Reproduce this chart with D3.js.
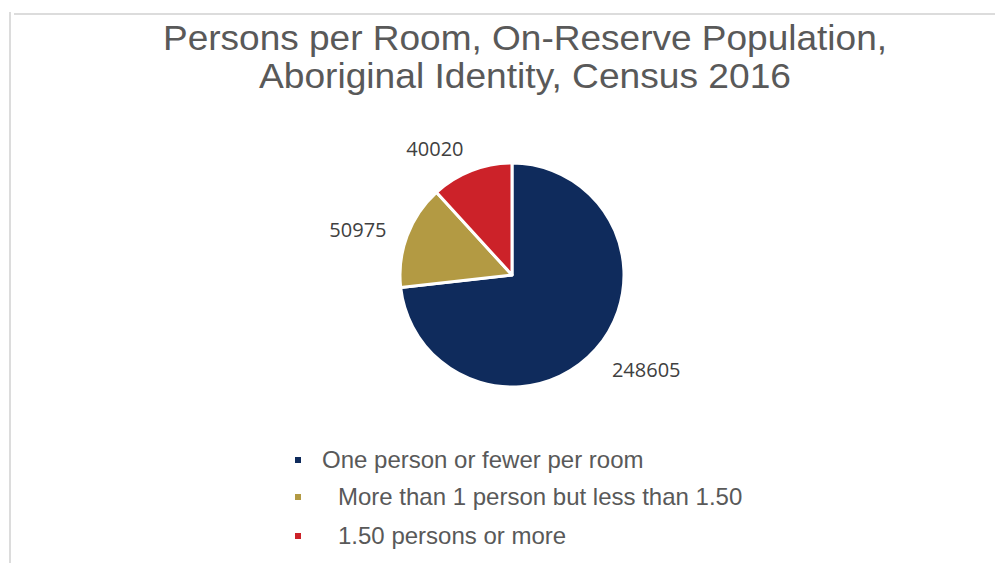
<!DOCTYPE html>
<html lang="en">
<head>
    <meta charset="UTF-8">
    <title>persons per room pie</title>
    <script src="https://d3js.org/d3.v7.min.js"></script>
    <style>
        body { margin: 0; background: #fff; }
    </style>
</head>
<body>
    <svg></svg>
    <script>
        const categories = [
            "One person or fewer per room",
            "More than 1 person but less than 1.50",
            "1.50 persons or more"
        ];
        const values = [248605, 50975, 40020];
        const colors = ["#0f2b5c", "#b39a43", "#cc2229"];
        const titleLines = ["Persons per Room, On-Reserve Population,", "Aboriginal Identity, Census 2016"];

        const svgWidth = 995;
        const svgHeight = 563;
        const cx = 512, cy = 275, radius = 112;

        const svg = d3.select('svg')
            .attr("width", svgWidth)
            .attr("height", svgHeight);

        // light frame (top + left edges of the chart box)
        svg.append("line")
            .attr("x1", 14).attr("x2", svgWidth).attr("y1", 14).attr("y2", 14)
            .attr("stroke", "#dcdcdc").attr("stroke-width", 2);
        svg.append("line")
            .attr("x1", 10).attr("x2", 10).attr("y1", 12).attr("y2", svgHeight)
            .attr("stroke", "#dcdcdc").attr("stroke-width", 2);

        const titleWidths = [724, 532];
        svg.append("text")
            .attr("x", 525)
            .attr("y", 50)
            .attr("text-anchor", "middle")
            .attr("font-family", "Liberation Sans, Arial, sans-serif")
            .attr("font-size", 35)
            .attr("fill", "#595959")
            .selectAll("tspan")
            .data(titleLines)
            .enter()
            .append("tspan")
            .attr("x", 525)
            .attr("dy", (d, i) => i === 0 ? 0 : 38)
            .attr("textLength", (d, i) => titleWidths[i])
            .attr("lengthAdjust", "spacingAndGlyphs")
            .text(d => d);

        const pie = d3.pie().sort(null).value(d => d);
        const arcs = pie(values);

        const arc = d3.arc().innerRadius(0).outerRadius(radius);

        const g = svg.append("g").attr("transform", `translate(${cx},${cy})`);

        g.selectAll("path")
            .data(arcs)
            .enter()
            .append("path")
            .attr("d", arc)
            .attr("fill", (d, i) => colors[i])
            .attr("stroke", "#fff")
            .attr("stroke-width", 3)
            .attr("stroke-linejoin", "round");

        // outside-end labels
        g.selectAll("text.lbl")
            .data(arcs)
            .enter()
            .append("text")
            .attr("class", "lbl")
            .each(function (d) {
                const a = (d.startAngle + d.endAngle) / 2;
                const sx = Math.sin(a), sy = -Math.cos(a);
                d3.select(this)
                    .attr("x", sx * 134)
                    .attr("y", sy * 138 + 3)
                    .attr("text-anchor", sx < 0 ? "end" : "start");
            })
            .attr("dy", "0.35em")
            .attr("font-family", "Open Sans, sans-serif")
            .attr("font-size", 20)
            .attr("fill", "#404040")
            .text(d => d.data);

        // legend
        const legendY = [460, 497, 536];
        const legendX = [322, 338, 338];
        const legend = svg.selectAll("g.legend")
            .data(categories)
            .enter()
            .append("g")
            .attr("class", "legend")
            .attr("transform", (d, i) => `translate(0,${legendY[i]})`);

        legend.append("rect")
            .attr("x", 295)
            .attr("y", -3)
            .attr("width", 6)
            .attr("height", 6)
            .attr("fill", (d, i) => colors[i]);

        legend.append("text")
            .attr("x", (d, i) => legendX[i])
            .attr("dy", "0.35em")
            .attr("font-family", "Liberation Sans, Arial, sans-serif")
            .attr("font-size", 24)
            .attr("fill", "#595959")
            .text(d => d);
    </script>
</body>
</html>
